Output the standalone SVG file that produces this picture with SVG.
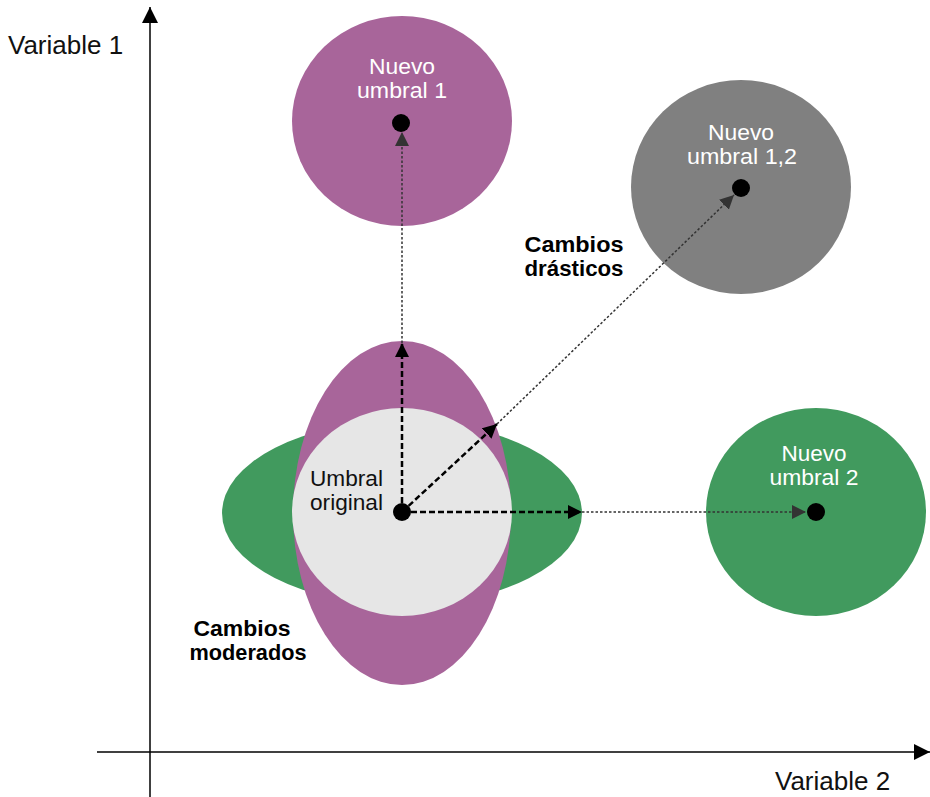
<svg xmlns="http://www.w3.org/2000/svg" width="930" height="797" viewBox="0 0 930 797">
  <style>
    .lbl { font-family: "Liberation Sans", Arial, sans-serif; font-size: 22px; }
    .white { fill: #ffffff; }
    .dark { fill: #111111; }
    .bold { font-weight: bold; fill: #000000; }
    .axis-lbl { font-family: "Liberation Sans", Arial, sans-serif; font-size: 26px; fill: #111111; }
    .thick { stroke: #000000; stroke-width: 2.5; stroke-dasharray: 6 3; fill: none; }
    .thin { stroke: #333333; stroke-width: 1.5; stroke-dasharray: 2.5 2; fill: none; }
    .dot { fill: #000000; }
  </style>
  <defs>
    <marker id="headBlack" viewBox="0 0 10 10" refX="10" refY="5" markerWidth="14" markerHeight="14" markerUnits="userSpaceOnUse" orient="auto">
      <path d="M0,0 L10,5 L0,10 Z" fill="#000000"/>
    </marker>
    <marker id="headGray" viewBox="0 0 10 10" refX="10" refY="5" markerWidth="14" markerHeight="14" markerUnits="userSpaceOnUse" orient="auto">
      <path d="M0,0 L10,5 L0,10 Z" fill="#333333"/>
    </marker>
    <marker id="axisHead" viewBox="0 0 10 10" refX="10" refY="5" markerWidth="16" markerHeight="16" markerUnits="userSpaceOnUse" orient="auto">
      <path d="M0,0 L10,5 L0,10 Z" fill="#000000"/>
    </marker>
  </defs>

  <!-- axes -->
  <g id="axes">
    <line x1="150" y1="797" x2="150" y2="7" stroke="#000" stroke-width="1.5" marker-end="url(#axisHead)"/>
    <line x1="97" y1="752" x2="930" y2="752" stroke="#000" stroke-width="1.5" marker-end="url(#axisHead)"/>
    <text class="axis-lbl" x="8" y="54">Variable 1</text>
    <text class="axis-lbl" x="775" y="790">Variable 2</text>
  </g>

  <!-- moderate change region around the original threshold -->
  <g id="moderate">
    <ellipse cx="402" cy="513" rx="180" ry="92" fill="#419A5E"/>
    <ellipse cx="402" cy="513" rx="109" ry="172" fill="#A8659A"/>
  </g>

  <g id="original">
    <ellipse cx="402" cy="512" rx="110" ry="104" fill="#E6E6E6"/>
    <text class="lbl dark" x="310" y="486" textLength="73" lengthAdjust="spacingAndGlyphs">Umbral</text>
    <text class="lbl dark" x="310" y="510" textLength="73" lengthAdjust="spacingAndGlyphs">original</text>
  </g>

  <g id="nuevo1">
    <ellipse cx="402" cy="121" rx="110" ry="105" fill="#A8659A"/>
    <text class="lbl white" x="402" y="74" text-anchor="middle" textLength="66" lengthAdjust="spacingAndGlyphs">Nuevo</text>
    <text class="lbl white" x="402" y="98" text-anchor="middle" textLength="90" lengthAdjust="spacingAndGlyphs">umbral 1</text>
  </g>

  <g id="nuevo12">
    <ellipse cx="741" cy="187" rx="110" ry="107" fill="#808080"/>
    <text class="lbl white" x="741" y="140" text-anchor="middle" textLength="66" lengthAdjust="spacingAndGlyphs">Nuevo</text>
    <text class="lbl white" x="742" y="164" text-anchor="middle" textLength="110" lengthAdjust="spacingAndGlyphs">umbral 1,2</text>
  </g>

  <g id="nuevo2">
    <ellipse cx="816" cy="512" rx="110" ry="104" fill="#419A5E"/>
    <text class="lbl white" x="814" y="461" text-anchor="middle" textLength="65" lengthAdjust="spacingAndGlyphs">Nuevo</text>
    <text class="lbl white" x="814" y="485" text-anchor="middle" textLength="89" lengthAdjust="spacingAndGlyphs">umbral 2</text>
  </g>

  <g id="labels">
    <text class="lbl bold" x="574" y="252" text-anchor="middle" textLength="99" lengthAdjust="spacingAndGlyphs">Cambios</text>
    <text class="lbl bold" x="574" y="276" text-anchor="middle" textLength="99" lengthAdjust="spacingAndGlyphs">drásticos</text>
    <text class="lbl bold" x="242" y="636" text-anchor="middle" textLength="97" lengthAdjust="spacingAndGlyphs">Cambios</text>
    <text class="lbl bold" x="248" y="660" text-anchor="middle" textLength="117" lengthAdjust="spacingAndGlyphs">moderados</text>
  </g>

  <!-- connectors -->
  <g id="connectors">
    <line class="thin" x1="402" y1="343" x2="402" y2="132" marker-end="url(#headGray)"/>
    <line class="thin" x1="582" y1="512" x2="806" y2="512" marker-end="url(#headGray)"/>
    <line class="thin" x1="497" y1="424" x2="734" y2="195" marker-end="url(#headGray)"/>
    <line class="thick" x1="402" y1="512" x2="402" y2="343" marker-end="url(#headBlack)"/>
    <line class="thick" x1="402" y1="512" x2="582" y2="512" marker-end="url(#headBlack)"/>
    <line class="thick" x1="402" y1="512" x2="497" y2="424" marker-end="url(#headBlack)"/>
  </g>

  <g id="dots">
    <circle class="dot" cx="402" cy="512" r="9"/>
    <circle class="dot" cx="401" cy="123" r="9"/>
    <circle class="dot" cx="741" cy="188" r="9"/>
    <circle class="dot" cx="816" cy="512" r="9"/>
  </g>
</svg>
